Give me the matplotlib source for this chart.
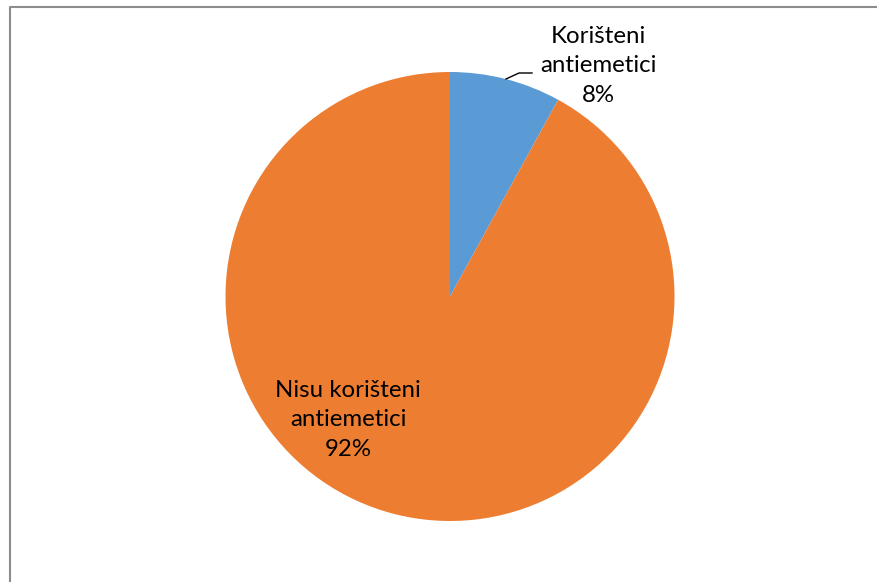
import matplotlib.pyplot as plt

labels = ['Korišteni\nantiemetici\n8%', 'Nisu korišteni\nantiemetici\n92%']
values = [8, 92]
colors = ['#5B9BD5', '#ED7D31']

W, H = 877, 582
fig = plt.figure(figsize=(W / 100, H / 100), dpi=100)
ax = fig.add_axes([0, 0, 1, 1])

# pie
ax.pie(values, colors=colors, startangle=90, counterclock=False,
       center=(450, H - 296.5), radius=224.5, frame=True)
ax.set_xlim(0, W)
ax.set_ylim(0, H)
ax.set_aspect('equal')
ax.axis('off')

# frame (only top and left visible in the original crop)
ax.plot([9.5, 9.5, W], [0, H - 6.5, H - 6.5], color='#8c8c8c', lw=1.5)

# labels
fnt = dict(family='Lato', fontsize=17.3, ha='center', va='center', linespacing=1.5)
ax.text(598, H - 66, labels[0], **fnt)
ax.text(348, H - 420, labels[1], **fnt)

# leader line
ax.plot([506, 519, 532], [H - 79, H - 73, H - 73], color='black', lw=1)

fig.savefig('out.png', dpi=100)
